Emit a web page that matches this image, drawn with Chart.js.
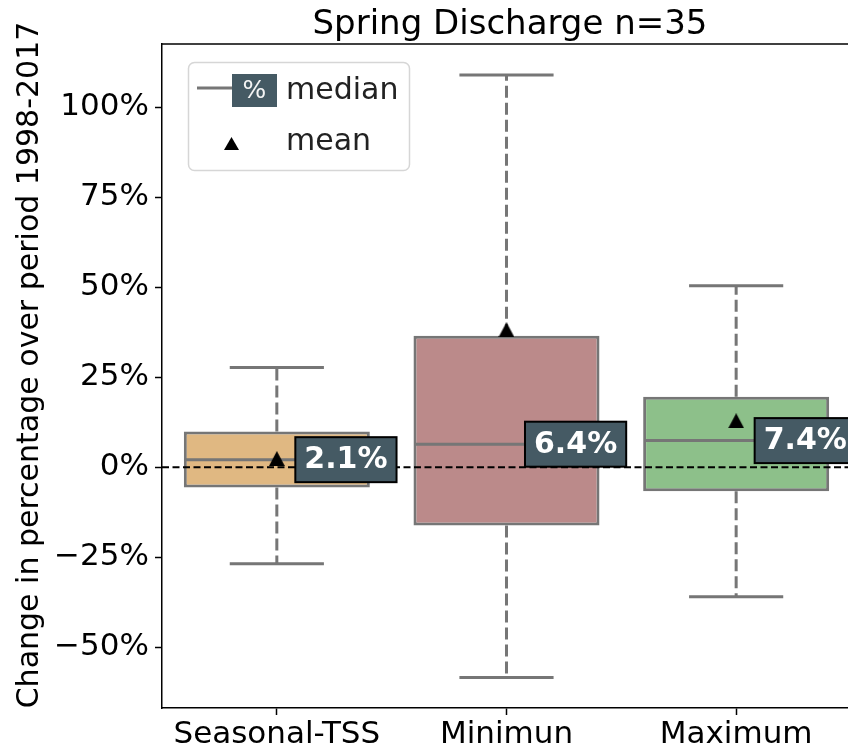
<!DOCTYPE html>
<html>
<head>
<meta charset="utf-8">
<script src="https://cdn.jsdelivr.net/npm/chart.js@4.4.0/dist/chart.umd.min.js"></script>
<style>
  html, body { margin: 0; padding: 0; background: #fff; overflow: hidden; }
  #wrap { width: 848px; height: 750px; }
</style>
</head>
<body>
<div id="wrap"><canvas id="boxChart" width="848" height="750"></canvas></div>
<script>
/* ------------------------------------------------------------------ */
/* Data                               */
/* ------------------------------------------------------------------ */
const categories = ['Seasonal-TSS', 'Minimun', 'Maximum'];
const whiskerLow = [-26.8, -58.4, -36.0];
const q1 = [-5.6, -16.2, -6.7];
const medians = [2.1, 6.4, 7.4];
const q3 = [9.9, 36.5, 19.6];
const whiskerHigh = [27.7, 109.0, 50.4];
const means = [2.4, 38.2, 12.9];
const yTicks = [-50, -25, 0, 25, 50, 75, 100];

const boxColors = ['#e0b882', '#bb8a8a', '#8dc08a'];
const lineGray = '#767676';
const labelFill = '#455a64';
const FONT = '"DejaVu Sans", sans-serif';

// axis limits
const X_MIN = -0.5, X_MAX = 2.487;
const Y_MIN = -66.9, Y_MAX = 117.6;
const BOX_HALF = 0.4, CAP_HALF = 0.205;

Chart.defaults.font.family = FONT;
Chart.defaults.color = '#000';

const idx = categories.map(function (c, i) { return i; });

// build line segments separated by null gaps
function segments(fn) {
    let pts = [];
    idx.forEach(function (i) {
        fn(i).forEach(function (seg) {
            pts.push(seg[0], seg[1], {x: i, y: null});
        });
    });
    return pts;
}

function triangleImage(w, h) {
    let c = document.createElement('canvas');
    c.width = w; c.height = h;
    let g = c.getContext('2d');
    g.fillStyle = '#000';
    g.beginPath();
    g.moveTo(w / 2, 0);
    g.lineTo(w, h);
    g.lineTo(0, h);
    g.closePath();
    g.fill();
    return c;
}

const boxData = idx.map(function (i) { return {x: i, y: [q1[i], q3[i]]}; });
const whiskerData = segments(function (i) {
    return [[{x: i, y: q1[i]}, {x: i, y: whiskerLow[i]}],
            [{x: i, y: q3[i]}, {x: i, y: whiskerHigh[i]}]];
});
const capData = segments(function (i) {
    return [[{x: i - CAP_HALF, y: whiskerLow[i]}, {x: i + CAP_HALF, y: whiskerLow[i]}],
            [{x: i - CAP_HALF, y: whiskerHigh[i]}, {x: i + CAP_HALF, y: whiskerHigh[i]}]];
});
const medianData = segments(function (i) {
    return [[{x: i - BOX_HALF, y: medians[i]}, {x: i + BOX_HALF, y: medians[i]}]];
});
const meanData = idx.map(function (i) { return {x: i, y: means[i]}; });
const zeroData = [{x: X_MIN, y: 0}, {x: X_MAX + 0.1, y: 0}];

/* ------------------------------------------------------------------ */
/* Decorations: median labels, legend, title, y label, top spine        */
/* ------------------------------------------------------------------ */
const decorations = {
    id: 'decorations',
    afterDatasetsDraw: function (chart) {
        const ctx = chart.ctx;
        const xs = chart.scales.x, ys = chart.scales.y;
        const area = chart.chartArea;
        ctx.save();

        // median value labels
        ctx.font = 'bold 30px ' + FONT;
        idx.forEach(function (i) {
            const text = medians[i].toFixed(1) + '%';
            const w = ctx.measureText(text).width + 18;
            const h = 45;
            const x0 = xs.getPixelForValue(i) + 18.5;
            const yc = ys.getPixelForValue(medians[i]);
            ctx.fillStyle = labelFill;
            ctx.fillRect(x0, yc - h / 2, w, h);
            ctx.strokeStyle = '#000';
            ctx.lineWidth = 2;
            ctx.strokeRect(x0, yc - h / 2, w, h);
            ctx.fillStyle = '#fff';
            ctx.textAlign = 'center';
            ctx.textBaseline = 'middle';
            ctx.fillText(text, x0 + w / 2, yc + 1);
        });

        // top spine
        ctx.strokeStyle = '#000';
        ctx.lineWidth = 1.5;
        ctx.beginPath();
        ctx.moveTo(area.left, area.top);
        ctx.lineTo(chart.width, area.top);
        ctx.stroke();

        // legend
        ctx.fillStyle = 'rgba(255,255,255,0.8)';
        ctx.strokeStyle = '#d6d6d6';
        ctx.lineWidth = 1.5;
        ctx.beginPath();
        ctx.roundRect(188.5, 62.5, 221, 108, 6);
        ctx.fill();
        ctx.stroke();

        ctx.strokeStyle = lineGray;
        ctx.lineWidth = 3;
        ctx.beginPath();
        ctx.moveTo(197, 88);
        ctx.lineTo(233, 88);
        ctx.stroke();
        ctx.fillStyle = labelFill;
        ctx.fillRect(232, 74, 45, 33);
        ctx.fillStyle = '#f4f4f4';
        ctx.font = '25px ' + FONT;
        ctx.textAlign = 'center';
        ctx.textBaseline = 'middle';
        ctx.fillText('%', 254.5, 91);

        ctx.drawImage(triangleImage(15, 13), 224, 137);

        ctx.fillStyle = '#222';
        ctx.font = '30px ' + FONT;
        ctx.textAlign = 'left';
        ctx.textBaseline = 'alphabetic';
        ctx.fillText('median', 286, 99);
        ctx.fillText('mean', 286, 150);

        // title
        ctx.fillStyle = '#000';
        ctx.font = '34px ' + FONT;
        ctx.textAlign = 'center';
        ctx.fillText('Spring Discharge n=35', 510, 34);

        // y axis label
        ctx.font = '30px ' + FONT;
        ctx.translate(38, 365);
        ctx.rotate(-Math.PI / 2);
        ctx.fillText('Change in percentage over period 1998-2017', 0, 0);

        ctx.restore();
    }
};

/* ------------------------------------------------------------------ */
/* Chart                                                               */
/* ------------------------------------------------------------------ */
const chartCtx = document.getElementById('boxChart').getContext('2d');
new Chart(chartCtx, {
    type: 'bar',
    data: {
        datasets: [
            {
                type: 'bar',
                data: boxData,
                backgroundColor: boxColors,
                borderColor: lineGray,
                borderWidth: 3,
                borderSkipped: false,
                barPercentage: 1,
                categoryPercentage: 0.81,
                order: 6
            },
            {
                type: 'line',
                data: whiskerData,
                borderColor: lineGray,
                borderWidth: 3,
                borderDash: [12, 5],
                pointRadius: 0,
                spanGaps: false,
                order: 5
            },
            {
                type: 'line',
                data: capData,
                borderColor: lineGray,
                borderWidth: 3,
                pointRadius: 0,
                spanGaps: false,
                order: 4
            },
            {
                type: 'line',
                data: medianData,
                borderColor: lineGray,
                borderWidth: 3,
                pointRadius: 0,
                spanGaps: false,
                order: 3
            },
            {
                type: 'line',
                data: zeroData,
                borderColor: '#000',
                borderWidth: 2,
                borderDash: [7, 3.5],
                pointRadius: 0,
                order: 2
            },
            {
                type: 'line',
                data: meanData,
                showLine: false,
                pointStyle: triangleImage(16, 15),
                order: 1
            }
        ]
    },
    options: {
        responsive: false,
        animation: false,
        devicePixelRatio: 1,
        events: [],
        layout: { autoPadding: false, padding: { top: 44, left: 0, right: 0, bottom: 0 } },
        plugins: {
            legend: { display: false },
            tooltip: { enabled: false },
            title: { display: false }
        },
        scales: {
            x: {
                type: 'linear',
                min: X_MIN,
                max: X_MAX,
                offset: false,
                afterBuildTicks: function (scale) {
                    scale.ticks = idx.map(function (i) { return {value: i}; });
                },
                afterFit: function (scale) { scale.height = 42; },
                ticks: {
                    autoSkip: false,
                    maxRotation: 0,
                    padding: 1,
                    font: { size: 31 },
                    color: '#000',
                    callback: function (v) { return categories[v]; }
                },
                grid: {
                    offset: false,
                    drawOnChartArea: false,
                    drawTicks: true,
                    tickLength: 7,
                    tickWidth: 1.5,
                    tickColor: '#000'
                },
                border: { display: true, color: '#000', width: 1.5 }
            },
            y: {
                type: 'linear',
                min: Y_MIN,
                max: Y_MAX,
                afterBuildTicks: function (scale) {
                    scale.ticks = yTicks.map(function (v) { return {value: v}; });
                },
                afterFit: function (scale) { scale.width = 162; },
                ticks: {
                    padding: 6,
                    font: { size: 31 },
                    color: '#000',
                    callback: function (v) {
                        return (v < 0 ? '\u2212' : '') + Math.abs(v) + '%';
                    }
                },
                grid: {
                    drawOnChartArea: false,
                    drawTicks: true,
                    tickLength: 7,
                    tickWidth: 1.5,
                    tickColor: '#000'
                },
                border: { display: true, color: '#000', width: 1.5 }
            }
        }
    },
    plugins: [decorations]
});
</script>
</body>
</html>
